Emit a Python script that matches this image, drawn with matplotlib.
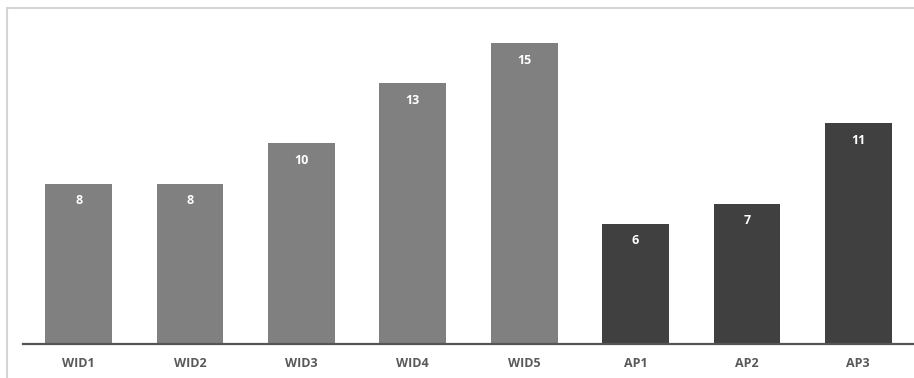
import matplotlib
matplotlib.use("Agg")
import matplotlib.pyplot as plt
from matplotlib.lines import Line2D

categories = ["WID1", "WID2", "WID3", "WID4", "WID5", "AP1", "AP2", "AP3"]
values = [8, 8, 10, 13, 15, 6, 7, 11]
groups = ["WID", "WID", "WID", "WID", "WID", "AP", "AP", "AP"]
group_colors = {"WID": "#808080", "AP": "#404040"}

W, H = 914, 378
fig = plt.figure(figsize=(W / 100, H / 100), dpi=100)
fig.patch.set_facecolor("white")

ax = fig.add_axes([23 / W, (H - 344) / H, (W - 23) / W, (344 - 23) / H])
x = list(range(len(categories)))
colors = [group_colors[g] for g in groups]
bars = ax.bar(x, values, width=0.6, color=colors, zorder=2)
ax.set_xlim(-0.5, len(categories) - 0.5)
ax.set_ylim(0, 16)

for b, v in zip(bars, values):
    ax.annotate(str(v), (b.get_x() + b.get_width() / 2, v), xytext=(0, -17),
                textcoords="offset pixels", ha="center", va="center",
                color="white", fontsize=9, fontweight="bold", family="Open Sans")

for s in ["top", "right", "left"]:
    ax.spines[s].set_visible(False)
ax.spines["bottom"].set_color("#555555")
ax.spines["bottom"].set_linewidth(1.6)
ax.set_yticks([])
ax.set_xticks(x)
ax.set_xticklabels(categories, fontsize=9, fontweight="bold", color="#595959", family="Open Sans")
ax.tick_params(axis="x", length=0, pad=9.5)

# outer light frame
fig.add_artist(Line2D([7.5 / W, 1.0], [1 - 8 / H, 1 - 8 / H], transform=fig.transFigure,
                      color="#d4d4d4", lw=1.5))
fig.add_artist(Line2D([7.5 / W, 7.5 / W], [0, 1 - 8 / H], transform=fig.transFigure,
                      color="#d4d4d4", lw=1.5))

fig.savefig("out.png", dpi=100)
